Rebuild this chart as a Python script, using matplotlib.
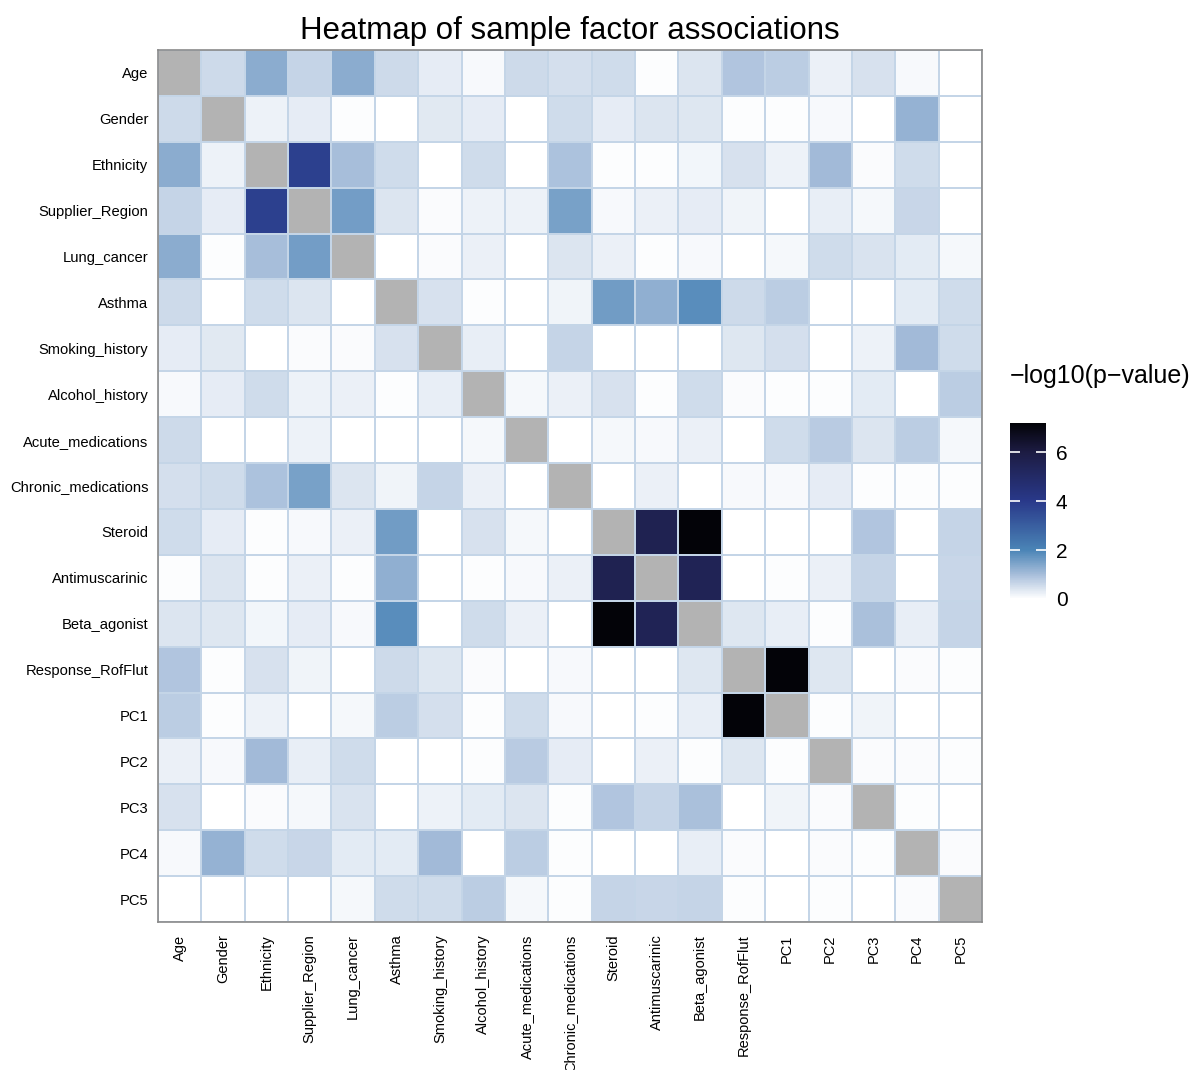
import numpy as np
import matplotlib
matplotlib.use("Agg")
import matplotlib.pyplot as plt
from matplotlib.colors import LinearSegmentedColormap

plt.rcParams['font.family'] = ['Liberation Sans', 'DejaVu Sans']

factors = ["Age", "Gender", "Ethnicity", "Supplier_Region", "Lung_cancer", "Asthma",
           "Smoking_history", "Alcohol_history", "Acute_medications", "Chronic_medications",
           "Steroid", "Antimuscarinic", "Beta_agonist", "Response_RofFlut",
           "PC1", "PC2", "PC3", "PC4", "PC5"]

# upper triangle (-log10 p), row i lists columns i+1 .. 18
upper = [
    [0.58, 1.30, 0.65, 1.30, 0.58, 0.30, 0.10, 0.58, 0.50, 0.55, 0.05, 0.40, 0.89, 0.78, 0.25, 0.45, 0.10, 0.02],
    [0.20, 0.30, 0.03, 0.00, 0.35, 0.30, 0.00, 0.55, 0.30, 0.40, 0.38, 0.03, 0.03, 0.10, 0.02, 1.20, 0.00],
    [3.80, 1.00, 0.55, 0.00, 0.55, 0.00, 0.93, 0.03, 0.05, 0.15, 0.45, 0.20, 1.05, 0.06, 0.55, 0.00],
    [1.55, 0.42, 0.06, 0.22, 0.22, 1.50, 0.10, 0.25, 0.30, 0.18, 0.02, 0.28, 0.14, 0.62, 0.00],
    [0.00, 0.06, 0.24, 0.00, 0.42, 0.25, 0.04, 0.10, 0.00, 0.13, 0.55, 0.43, 0.33, 0.13],
    [0.45, 0.05, 0.00, 0.17, 1.60, 1.25, 1.85, 0.58, 0.78, 0.02, 0.02, 0.33, 0.55],
    [0.26, 0.00, 0.65, 0.00, 0.00, 0.02, 0.37, 0.50, 0.00, 0.20, 1.05, 0.55],
    [0.12, 0.25, 0.47, 0.05, 0.55, 0.06, 0.05, 0.05, 0.32, 0.00, 0.78],
    [0.00, 0.13, 0.11, 0.25, 0.00, 0.55, 0.80, 0.40, 0.78, 0.14],
    [0.00, 0.25, 0.02, 0.10, 0.10, 0.30, 0.05, 0.03, 0.05],
    [5.60, 7.20, 0.00, 0.02, 0.00, 0.89, 0.02, 0.66],
    [5.50, 0.00, 0.05, 0.23, 0.65, 0.02, 0.63],
    [0.37, 0.28, 0.04, 0.97, 0.27, 0.65],
    [7.20, 0.38, 0.00, 0.06, 0.04],
    [0.05, 0.17, 0.00, 0.00],
    [0.06, 0.08, 0.03],
    [0.04, 0.02],
    [0.06],
]

n = len(factors)
M = np.full((n, n), np.nan)
for i, row in enumerate(upper):
    for k, v in enumerate(row):
        j = i + 1 + k
        M[i, j] = v
        M[j, i] = v
data = np.ma.masked_invalid(M)

vmax = 7.2
nodes = [(0.0, "#ffffff"), (1.0 / vmax, "#a6bdda"), (2.0 / vmax, "#4a84b6"),
         (4.0 / vmax, "#29398a"), (6.0 / vmax, "#1d1c44"), (1.0, "#030308")]
cmap = LinearSegmentedColormap.from_list("bluecm", nodes)
cmap.set_bad("#b3b3b3")

fig = plt.figure(figsize=(11.95, 10.70), dpi=100)
ax = fig.add_axes([158 / 1195, (1070 - 922) / 1070, 824 / 1195, 872 / 1070])
ax.set_facecolor("#b3b3b3")
mesh = ax.pcolormesh(np.arange(n + 1), np.arange(n + 1), data, cmap=cmap, vmin=0, vmax=vmax,
                     edgecolors="#c4d5e7", linewidth=1.4)
ax.set_xlim(0, n)
ax.set_ylim(n, 0)
ax.set_xticks(np.arange(n) + 0.5)
ax.set_yticks(np.arange(n) + 0.5)
ax.set_xticklabels(factors, rotation=90, fontsize=10.5, va="top", ha="center")
ax.set_yticklabels(factors, fontsize=10.6)
ax.tick_params(axis="y", length=0, pad=7)
ax.tick_params(axis="x", length=0, pad=9)
for s in ax.spines.values():
    s.set_color("#8a8a8a")
    s.set_linewidth(1.2)

ax.set_title("Heatmap of sample factor associations", fontsize=22.5, pad=8)

cax = fig.add_axes([1010 / 1195, (1070 - 599) / 1070, 36 / 1195, 176 / 1070])
cb = fig.colorbar(mesh, cax=cax, ticks=[0, 2, 4, 6])
cb.outline.set_visible(False)
cax.tick_params(axis="y", direction="in", color="white", length=7, width=1.2,
                left=True, right=True, labelsize=15, pad=7)
cax.text(0, 1.2, "\u2212log10(p\u2212value)", transform=cax.transAxes, fontsize=18,
         ha="left", va="bottom")

fig.savefig("out.png", dpi=100, facecolor="white")
